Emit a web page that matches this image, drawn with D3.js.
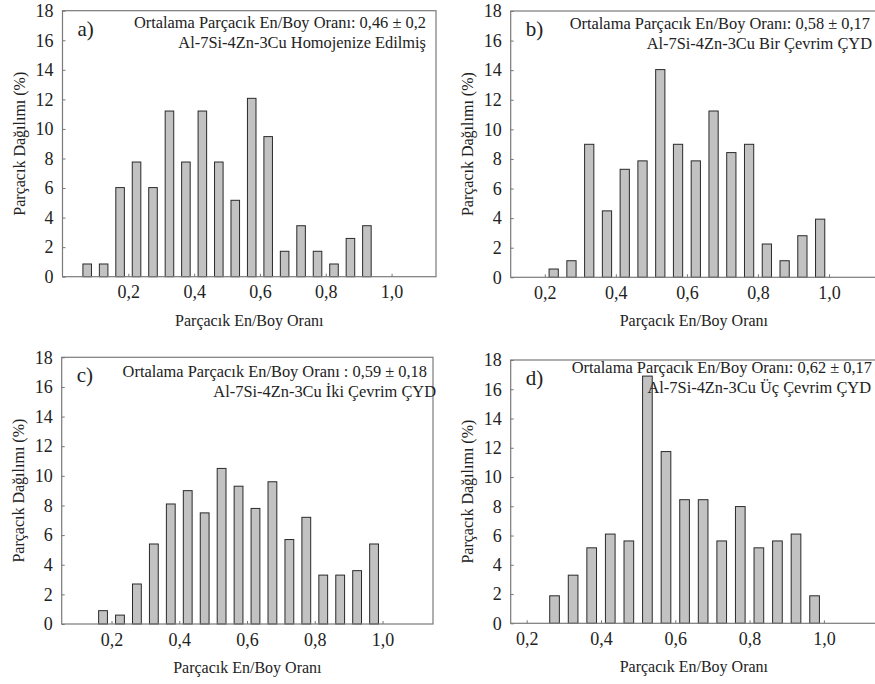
<!DOCTYPE html>
<html>
<head>
<meta charset="utf-8">
<script src="https://cdn.jsdelivr.net/npm/d3@7"></script>
<style>
  body { margin: 0; background: #fff; }
  text { font-family: "Liberation Serif", "Times New Roman", serif; fill: #222; }
</style>
</head>
<body>
<svg id="chart" width="875" height="684"></svg>
<script>
// bin centres of the aspect ratio histogram (bin width 0.05)
var binCenters = [0.075, 0.125, 0.175, 0.225, 0.275, 0.325, 0.375, 0.425, 0.475, 0.525,
                  0.575, 0.625, 0.675, 0.725, 0.775, 0.825, 0.875, 0.925, 0.975];

// particle distribution (%) per bin, null = no bar
var homogenized = [0.86, 0.86, 6.03, 7.76, 6.03, 11.21, 7.76, 11.21, 7.76, 5.17,
                   12.07, 9.48, 1.72, 3.45, 1.72, 0.86, 2.59, 3.45, null];
var oneCycle    = [null, null, null, 0.56, 1.12, 8.99, 4.49, 7.30, 7.87, 14.04,
                   8.99, 7.87, 11.24, 8.43, 8.99, 2.25, 1.12, 2.81, 3.93];
var twoCycles   = [null, null, 0.9, 0.6, 2.7, 5.4, 8.1, 9.0, 7.5, 10.5,
                   9.3, 7.8, 9.6, 5.7, 7.2, 3.3, 3.3, 3.6, 5.4];
var threeCycles = [null, null, null, null, 1.88, 3.29, 5.16, 6.10, 5.63, 16.90,
                   11.74, 8.45, 8.45, 5.63, 7.98, 5.16, 5.63, 6.10, 1.88];

var yTicks = [0, 2, 4, 6, 8, 10, 12, 14, 16, 18];
var xTicks = [0.2, 0.4, 0.6, 0.8, 1.0];
var xTickLabels = ["0,2", "0,4", "0,6", "0,8", "1,0"];

var panelLetters = ["a)", "b)", "c)", "d)"];
var meanLines = [
  "Ortalama Parçacık En/Boy Oranı: 0,46 ± 0,2",
  "Ortalama Parçacık En/Boy Oranı: 0,58 ± 0,17",
  "Ortalama Parçacık En/Boy Oranı : 0,59 ± 0,18",
  "Ortalama Parçacık En/Boy Oranı: 0,62 ± 0,17"
];
var alloyLines = [
  "Al-7Si-4Zn-3Cu Homojenize Edilmiş",
  "Al-7Si-4Zn-3Cu Bir Çevrim ÇYD",
  "Al-7Si-4Zn-3Cu İki Çevrim ÇYD",
  "Al-7Si-4Zn-3Cu Üç Çevrim ÇYD"
];
var xTitle = "Parçacık En/Boy Oranı";
var yTitle = "Parçacık Dağılımı (%)";

var svg = d3.select("#chart");
svg.append("rect").attr("width", 875).attr("height", 684).attr("fill", "#fff");

// frame of each panel in page pixels + x domain shown in it
var panels = [
  {data: homogenized, left: 62.5, right: 436, top: 10.7, bottom: 276.7, xd: [0, 1.135],
   t1: 426, t2: 426, ty: 28},
  {data: oneCycle, left: 510.7, right: 877, top: 11, bottom: 277.3, xd: [0.104, 1.135],
   t1: 870, t2: 872, ty: 29},
  {data: twoCycles, left: 61.7, right: 433, top: 357.3, bottom: 624, xd: [0.053, 1.149],
   t1: 427, t2: 436, ty: 377},
  {data: threeCycles, left: 510.7, right: 877, top: 360, bottom: 623.3, xd: [0.157, 1.143],
   t1: 872, t2: 871, ty: 373}
];

var barWidth = 0.026;

panels.forEach(function (p, i) {
  var x = d3.scaleLinear().domain(p.xd).range([p.left, p.right]);
  var y = d3.scaleLinear().domain([0, 18]).range([p.bottom, p.top]);
  var g = svg.append("g");

  var bars = binCenters.map(function (c, k) { return {c: c, v: p.data[k]}; })
    .filter(function (d) { return d.v != null; });

  g.selectAll("rect.bar")
    .data(bars)
    .enter()
    .append("rect")
    .attr("class", "bar")
    .attr("x", function (d) { return x(d.c - barWidth / 2); })
    .attr("width", function (d) { return x(d.c + barWidth / 2) - x(d.c - barWidth / 2); })
    .attr("y", function (d) { return y(d.v); })
    .attr("height", function (d) { return y(0) - y(d.v); })
    .attr("fill", "#c2c2c2")
    .attr("stroke", "#2a2a2a")
    .attr("stroke-width", 1);

  // frame
  g.append("rect")
    .attr("x", p.left).attr("y", p.top)
    .attr("width", p.right - p.left).attr("height", p.bottom - p.top)
    .attr("fill", "none").attr("stroke", "#7a7a7a").attr("stroke-width", 1.2);

  var yAxis = g.append("g")
    .attr("transform", "translate(" + p.left + ",0)")
    .call(d3.axisLeft(y).tickValues(yTicks).tickSizeInner(-3).tickSizeOuter(0).tickPadding(9));
  yAxis.select(".domain").remove();
  yAxis.selectAll("line").attr("stroke", "#777");
  yAxis.selectAll("text").attr("font-size", 18).attr("fill", "#222")
    .style("font-family", "'Liberation Serif', serif");

  var xAxis = g.append("g")
    .attr("transform", "translate(0," + p.bottom + ")")
    .call(d3.axisBottom(x).tickValues(xTicks)
      .tickFormat(function (d, k) { return xTickLabels[k]; })
      .tickSizeInner(-3).tickSizeOuter(0).tickPadding(9));
  xAxis.select(".domain").remove();
  xAxis.selectAll("line").attr("stroke", "#777");
  xAxis.selectAll("text").attr("font-size", 18).attr("fill", "#222")
    .style("font-family", "'Liberation Serif', serif");

  // axis titles
  g.append("text")
    .attr("x", (p.left + p.right) / 2)
    .attr("y", p.bottom + 49)
    .attr("text-anchor", "middle")
    .attr("font-size", 16)
    .text(xTitle);

  g.append("text")
    .attr("transform", "translate(" + (p.left - 38) + "," + ((p.top + p.bottom) / 2) + ") rotate(-90)")
    .attr("text-anchor", "middle")
    .attr("font-size", 16)
    .text(yTitle);

  // panel letter and annotation
  g.append("text")
    .attr("x", p.left + 15).attr("y", p.top + 25)
    .attr("font-size", 21)
    .text(panelLetters[i]);

  g.append("text")
    .attr("x", p.t1).attr("y", p.ty)
    .attr("text-anchor", "end")
    .attr("font-size", 16.4)
    .text(meanLines[i]);

  g.append("text")
    .attr("x", p.t2).attr("y", p.ty + 19.5)
    .attr("text-anchor", "end")
    .attr("font-size", 16.4)
    .text(alloyLines[i]);
});
</script>
</body>
</html>
